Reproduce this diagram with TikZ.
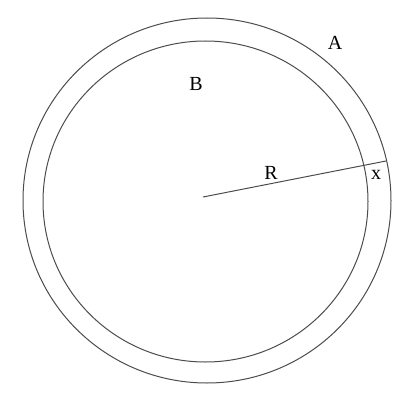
\documentclass[tikz,border=0pt]{standalone}
\usepackage{fontspec}
\setmainfont{Liberation Serif}
\begin{document}
\begin{tikzpicture}[x=1pt, y=-1pt, line width=1pt, font=\fontsize{20}{22}\selectfont]
    \useasboundingbox (0,0) rectangle (415,404);
    \tikzset{ring/.style={draw=black!70}}

    % 两个圆
    \draw[ring] (207,200.5) ellipse [x radius=184, y radius=182.5];
    \draw[ring] (205.5,201.5) ellipse [x radius=162.5, y radius=160.5];

    % 半径 R 与 x
    \coordinate (O) at (203,197);
    \coordinate (E) at (386,161);
    \draw[ring] (O) -- (E);

    % 标注
    \node[inner sep=0pt] (labR) at (271,173) {R};
    \node[inner sep=0pt] (labx) at (376,175) {x};
    \node[inner sep=0pt] (labA) at (335,43) {A};
    \node[inner sep=0pt] (labB) at (196,84) {B};
\end{tikzpicture}
\end{document}
